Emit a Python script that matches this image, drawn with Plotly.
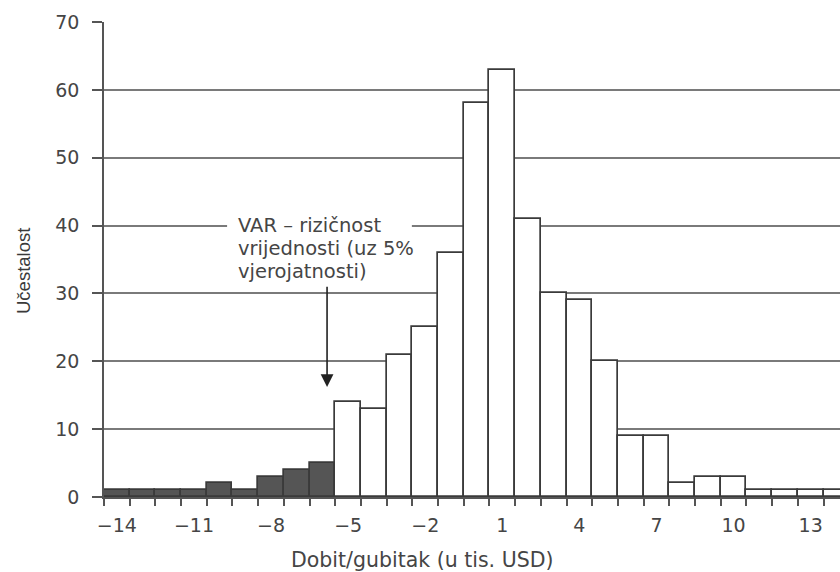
import plotly.graph_objects as go

# Histogram data: bin centres (thousand USD) and frequencies
bins = [-14, -13, -12, -11, -10, -9, -8, -7, -6, -5, -4, -3, -2, -1, 0,
        1, 2, 3, 4, 5, 6, 7, 8, 9, 10, 11, 12, 13, 14]
counts = [1, 1, 1, 1, 2, 1, 3, 4, 5, 14, 13, 21, 25, 36, 58,
          63, 41, 30, 29, 20, 9, 9, 2, 3, 3, 1, 1, 1, 1]
var_cutoff = -5.5  # bins below this are the 5% tail (dark)

y_ticks = [0, 10, 20, 30, 40, 50, 60, 70]
x_tick_start, x_tick_step = -14, 3

ann_lines = ["VAR – rizičnost", "vrijednosti (uz 5%", "vjerojatnosti)"]
x_title = "Dobit/gubitak (u tis. USD)"
y_title = "Učestalost"

colors = ["#555555" if b < var_cutoff else "#ffffff" for b in bins]

FONT = "DejaVu Sans"
TXT = "#454545"
AX = "#555555"
FS = 19

# figure geometry (body margin removed via post_script)
W, H = 840, 572
ML, MR, MT, MB = 104, 0, 22, 75
PW, PH = W - ML - MR, H - MT - MB


def px_x(p):
    return (p - ML) / PW


def px_y(p):
    return 1 - (p - MT) / PH


fig = go.Figure()
fig.add_trace(go.Bar(
    x=bins, y=counts, width=1,
    marker=dict(color=colors, line=dict(color="#3a3a3a", width=1.7)),
    showlegend=False, hoverinfo="x+y",
))

# annotation text (3 lines) with white backing over the gridline
ann_x = -9.36
ann_y0 = 40
line_step = 3.35
fig.add_shape(type="rect", xref="x", yref="y",
              x0=ann_x - 0.35, x1=-2.52, y0=ann_y0 - 1.5, y1=ann_y0 + 1.5,
              fillcolor="white", line=dict(width=0), layer="above")
for i, t in enumerate(ann_lines):
    fig.add_annotation(x=ann_x, y=ann_y0 - i * line_step, xref="x", yref="y",
                       text=t, showarrow=False, xanchor="left", yanchor="middle",
                       font=dict(family=FONT, size=19.5, color=TXT))

# arrow pointing to the VAR cut-off
fig.add_annotation(x=-5.82, y=16.2, ax=-5.82, ay=31.2, xref="x", yref="y",
                   axref="x", ayref="y", text="", showarrow=True,
                   arrowhead=2, arrowsize=1.6, arrowwidth=1.6, arrowcolor="#222222")

# axis titles
fig.add_annotation(x=px_x(422), y=px_y(560), xref="paper", yref="paper",
                   text=x_title, showarrow=False, xanchor="center", yanchor="middle",
                   font=dict(family=FONT, size=20.5, color=TXT))
fig.add_annotation(x=px_x(23), y=px_y(271), xref="paper", yref="paper",
                   text=y_title, showarrow=False, textangle=-90,
                   xanchor="center", yanchor="middle",
                   font=dict(family="Liberation Sans", size=18.5, color="#3a3a3a"))

fig.update_layout(
    width=W, height=H,
    margin=dict(l=ML, r=MR, t=MT, b=MB),
    plot_bgcolor="white", paper_bgcolor="white",
    bargap=0,
    font=dict(family=FONT, size=FS, color=TXT),
    xaxis=dict(
        range=[-14.5, 14.14],
        tickmode="linear", tick0=x_tick_start, dtick=x_tick_step,
        ticks="", showgrid=False, zeroline=False,
        showline=True, linecolor=AX, linewidth=1.7,
        ticklabelstandoff=10,
        tickfont=dict(family=FONT, size=FS, color=TXT),
        minor=dict(tick0=-14.5, dtick=1, ticks="outside", ticklen=7,
                   tickcolor=AX, tickwidth=1.6, showgrid=False),
    ),
    yaxis=dict(
        range=[0, 70],
        tickmode="array", tickvals=y_ticks,
        ticks="outside", ticklen=10, tickcolor=AX, tickwidth=1.6,
        showgrid=True, gridcolor="#7a7a7a", gridwidth=1.6,
        zeroline=False, showline=True, linecolor=AX, linewidth=1.7,
        ticklabelstandoff=9,
        tickfont=dict(family=FONT, size=FS, color=TXT),
    ),
)

fig.write_html(
    "out.html",
    config={"displayModeBar": False},
    post_script="document.body.style.margin='0';document.body.style.overflow='hidden';",
)
